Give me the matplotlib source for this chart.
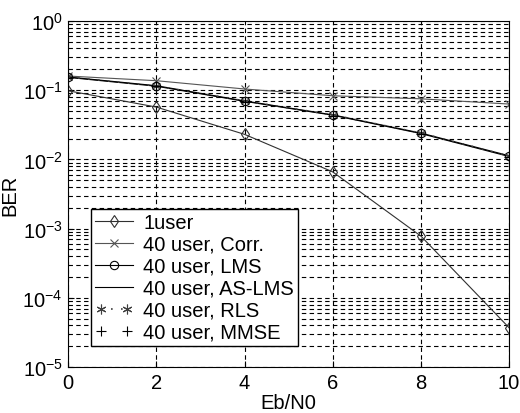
import matplotlib
matplotlib.use("Agg")
import matplotlib.pyplot as plt
from matplotlib.legend_handler import HandlerLine2D
from matplotlib.ticker import LogLocator

plt.rcParams['font.family'] = ['Liberation Sans', 'DejaVu Sans']
plt.rcParams['mathtext.fontset'] = 'custom'
plt.rcParams['mathtext.rm'] = 'Liberation Sans'
plt.rcParams['mathtext.it'] = 'Liberation Sans'
plt.rcParams['mathtext.bf'] = 'Liberation Sans'

# 数据 (Eb/N0 in dB)
ebn0 = [0, 2, 4, 6, 8, 10]
ber_1user = [0.098, 0.057, 0.023, 0.0066, 0.00078, 3.7e-5]
ber_corr = [0.160, 0.137, 0.104, 0.083, 0.075, 0.063]
ber_lms = [0.155, 0.116, 0.070, 0.044, 0.0240, 0.0113]
ber_aslms = [0.153, 0.114, 0.069, 0.0435, 0.0236, 0.0110]
ber_rls = [0.155, 0.115, 0.070, 0.044, 0.0240, 0.0112]
ber_mmse = [0.152, 0.113, 0.068, 0.043, 0.0232, 0.0108]

labels = ["1user", "40 user, Corr.", "40 user, LMS",
          "40 user, AS-LMS", "40 user, RLS", "40 user, MMSE"]

fig = plt.figure(figsize=(5.2, 4.14), dpi=100)
ax = fig.add_axes([0.131, 0.111, 0.848, 0.836])

l1, = ax.semilogy(ebn0, ber_1user, "d-", color="#303030", lw=0.8,
                  mfc="none", ms=6, mew=0.8, label=labels[0])
l2, = ax.semilogy(ebn0, ber_corr, "x-", color="#555555", lw=0.8,
                  ms=6, mew=0.8, label=labels[1])
l3, = ax.semilogy(ebn0, ber_lms, "o-", color="black", lw=0.8,
                  mfc="none", ms=6, mew=0.8, label=labels[2])
l4, = ax.semilogy(ebn0, ber_aslms, "-", color="black", lw=0.8,
                  label=labels[3])
l5, = ax.semilogy(ebn0, ber_rls, ls=(0, (1, 5)), marker=(6, 2, 0),
                  color="#404040", lw=1.2, ms=7, mew=0.8, label=labels[4])
l6, = ax.semilogy(ebn0, ber_mmse, "+", color="black", ls="none",
                  ms=7, mew=0.8, label=labels[5])

# 坐标
ax.set_xlim(0, 10)
ax.set_ylim(1e-5, 1)
ax.set_xticks([0, 2, 4, 6, 8, 10])
ax.yaxis.set_major_locator(LogLocator(base=10, numticks=10))
ax.yaxis.set_minor_locator(LogLocator(base=10, subs=range(2, 10), numticks=20))
ax.tick_params(which="both", direction="in", labelsize=14.5, color="black")
ax.tick_params(which="minor", length=2)
ax.tick_params(which="major", length=4, pad=4)

# 网格
ax.grid(True, which="major", ls=(0, (4, 3)), color="black", lw=0.8)
ax.grid(True, which="minor", axis="y", ls=(0, (4, 3)), color="black", lw=0.8)
for s in ax.spines.values():
    s.set_linewidth(0.8)

ax.set_xlabel("Eb/N0", fontsize=14.5, labelpad=1)
ax.set_ylabel("BER", fontsize=14.5, labelpad=2)

leg = ax.legend(handles=[l1, l2, l3, l4, l5, l6], loc="lower left",
                bbox_to_anchor=(0.052, 0.061), fontsize=14.5, numpoints=1,
                handlelength=1.9, handletextpad=0.5, labelspacing=0.15,
                borderpad=0.2, borderaxespad=0, fancybox=False,
                framealpha=1, edgecolor="black",
                handler_map={l5: HandlerLine2D(numpoints=2),
                             l6: HandlerLine2D(numpoints=2)})
leg.get_frame().set_linewidth(1.0)

fig.savefig("out.png", dpi=100)
